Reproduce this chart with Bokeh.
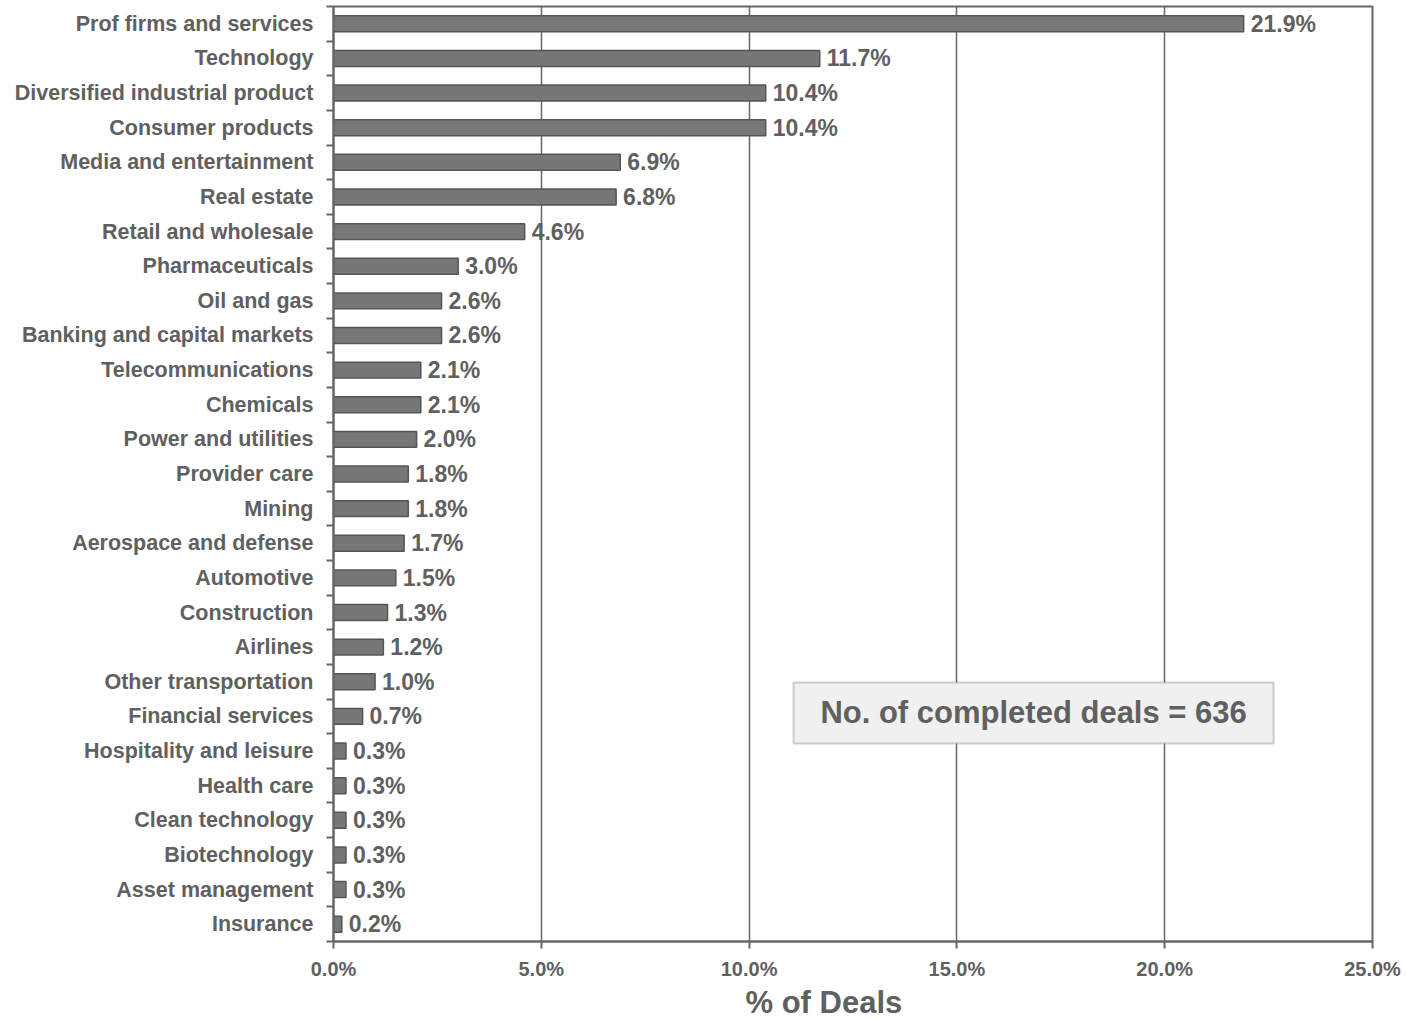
from bokeh.plotting import figure
from bokeh.models import (ColumnDataSource, FixedTicker, PrintfTickFormatter,
                          Range1d, BoxAnnotation, Label, LabelSet, Title)
from bokeh.core.properties import value
from bokeh.embed import file_html
from bokeh.resources import INLINE

# Sector share of completed deals (%), listed top to bottom
sectors = [
    "Prof firms and services", "Technology", "Diversified industrial product",
    "Consumer products", "Media and entertainment", "Real estate",
    "Retail and wholesale", "Pharmaceuticals", "Oil and gas",
    "Banking and capital markets", "Telecommunications", "Chemicals",
    "Power and utilities", "Provider care", "Mining", "Aerospace and defense",
    "Automotive", "Construction", "Airlines", "Other transportation",
    "Financial services", "Hospitality and leisure", "Health care",
    "Clean technology", "Biotechnology", "Asset management", "Insurance",
]
shares = [21.9, 11.7, 10.4, 10.4, 6.9, 6.8, 4.6, 3.0, 2.6, 2.6, 2.1, 2.1,
          2.0, 1.8, 1.8, 1.7, 1.5, 1.3, 1.2, 1.0, 0.7, 0.3, 0.3, 0.3, 0.3,
          0.3, 0.2]
x_ticks = [0, 5, 10, 15, 20, 25]
deal_count = 636

FONT = "Liberation Sans"
TEXT = "#606060"
LINE = "#666666"

n = len(sectors)
ypos = [n - 1 - i for i in range(n)]
src = ColumnDataSource(dict(
    y=ypos, share=shares,
    lbl=[f"{v:.1f}%" for v in shares],
))

p = figure(width=1406, height=1020, output_backend="svg", toolbar_location=None,
           x_range=Range1d(0, 25), y_range=Range1d(-0.5, n - 0.5))
p.min_border_left = 333
p.min_border_right = 34
p.min_border_top = 6
p.min_border_bottom = 79
p.outline_line_color = LINE
p.outline_line_width = 2
p.background_fill_color = "white"
p.border_fill_color = "white"

p.hbar(y="y", right="share", left=0, height=0.46, source=src,
       fill_color="#777777", line_color="#555555", line_width=1.5)

p.add_layout(LabelSet(x="share", y="y", text="lbl", source=src,
                      x_offset=7, text_baseline="middle",
                      text_font=value(FONT), text_font_style="bold",
                      text_font_size="23px", text_color=TEXT))

# x axis
xa = p.xaxis[0]
xa.ticker = FixedTicker(ticks=x_ticks, minor_ticks=[])
xa.formatter = PrintfTickFormatter(format="%.1f%%")
xa.major_label_text_font = FONT
xa.major_label_text_font_style = "bold"
xa.major_label_text_font_size = "20px"
xa.major_label_text_color = TEXT
xa.major_label_standoff = 9
xa.axis_line_color = LINE
xa.axis_line_width = 2
xa.major_tick_line_color = LINE
xa.major_tick_line_width = 2
xa.major_tick_out = 7
xa.major_tick_in = 0

# x axis title below the tick labels, set a little left of the frame centre
p.add_layout(Title(text="% of Deals", align="left", offset=412,
                   text_font=FONT, text_font_style="bold",
                   text_font_size="31px", text_color=TEXT, standoff=0),
             "below")

# y axis: names at bar centres, ticks on category boundaries
ya = p.yaxis[0]
ya.ticker = FixedTicker(ticks=ypos, minor_ticks=[k - 0.5 for k in range(n + 1)])
ya.major_label_overrides = {y: s for y, s in zip(ypos, sectors)}
ya.major_label_text_font = FONT
ya.major_label_text_font_style = "bold"
ya.major_label_text_font_size = "21.5px"
ya.major_label_text_color = TEXT
ya.major_label_standoff = 13
ya.major_tick_out = 0
ya.major_tick_in = 0
ya.minor_tick_out = 7
ya.minor_tick_in = 0
ya.minor_tick_line_color = LINE
ya.minor_tick_line_width = 2
ya.axis_line_color = LINE
ya.axis_line_width = 2

p.xgrid.grid_line_color = LINE
p.xgrid.grid_line_width = 1.5
p.ygrid.grid_line_color = None

# deal count callout
p.add_layout(BoxAnnotation(left=11.07, right=22.62, bottom=5.22, top=6.98,
                           fill_color="#f0f0f0", fill_alpha=1.0,
                           line_color=LINE, line_width=2, level="overlay"))
p.add_layout(Label(x=(11.07 + 22.62) / 2, y=6.1,
                   text=f"No. of completed deals = {deal_count}",
                   text_align="center", text_baseline="middle",
                   text_font=FONT, text_font_style="bold",
                   text_font_size="31px", text_color=TEXT, level="overlay"))

open("out.html", "w").write(file_html(p, INLINE))
